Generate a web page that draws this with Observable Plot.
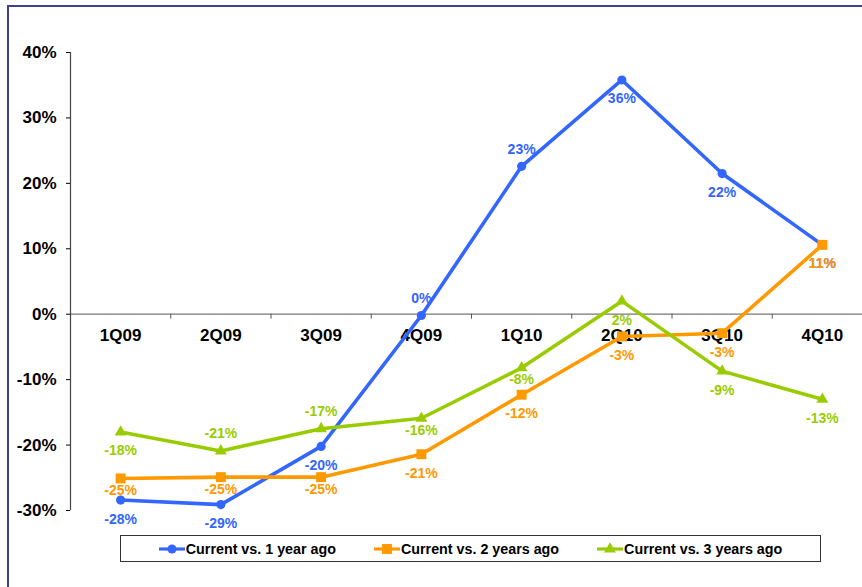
<!DOCTYPE html>
<html><head><meta charset="utf-8">
<script src="https://cdn.jsdelivr.net/npm/d3@7"></script>
<script src="https://cdn.jsdelivr.net/npm/@observablehq/plot@0.6"></script>
<style>
body{margin:0;background:#fff;font-family:"Liberation Sans",Arial,sans-serif;overflow:hidden;}
#frame{position:absolute;left:7px;top:5px;width:900px;height:700px;border-left:2px solid #3b4197;border-top:2px solid #3b4197;}
#chart{position:absolute;left:9px;top:7px;}
#chart svg{overflow:visible;}
#legend{position:absolute;left:120px;top:535px;width:699px;height:25px;border:1px solid #333;display:flex;align-items:center;justify-content:center;gap:38px;font-weight:bold;font-size:14.3px;color:#000;}
#legend .item{display:flex;align-items:center;gap:1px;}
</style>
</head><body>
<div id="frame"></div>
<div id="chart"></div>
<div id="legend"></div>
<script>
const quarters = ["1Q09","2Q09","3Q09","4Q09","1Q10","2Q10","3Q10","4Q10"];
const seriesNames = ["Current vs. 1 year ago","Current vs. 2 years ago","Current vs. 3 years ago"];
const vs1 = [-28.4,-29.1,-20.2,-0.2,22.6,35.8,21.5,10.6];
const vs2 = [-25.1,-24.9,-24.9,-21.4,-12.3,-3.4,-2.9,10.6];
const vs3 = [-18.0,-20.9,-17.5,-15.9,-8.2,2.0,-8.7,-13.0];
const yTicks = [-30,-20,-10,0,10,20,30,40];
// label placement: a = above, b = below, n = just below
const place1 = ["b","b","b","a","a","b","b","b"];
const place2 = ["n","n","n","b","b","b","b","b"];
const place3 = ["b","a","a","n","n","b","b","b"];

const colors = ["#3366ff","#ff9900","#99cc00"];
const symbols = ["circle","square","triangle"];
const radii = [4.6,5.6,4.4];
const allVals = [vs1,vs2,vs3];
const allPlace = [place1,place2,place3];

const rows = [];
allVals.forEach((vals,s)=>vals.forEach((v,i)=>rows.push({series:seriesNames[s],s,i,v,pos:allPlace[s][i]})));

const marks = [
  Plot.ruleY([0],{stroke:"#777",strokeWidth:1.2}),
  Plot.ruleX(quarters.map((q,i)=>i+0.5),{x:d=>d,y1:()=>0,y2:()=>-0.75,stroke:"#555"}),
  Plot.ruleX([-0.5],{x:d=>d,y1:()=>yTicks[0],y2:()=>yTicks[yTicks.length-1],stroke:"#444",strokeWidth:1.2}),
  Plot.text(quarters,{x:(d,i)=>i,y:()=>0,text:d=>d,dy:21,fontSize:17,fontWeight:"bold",fill:"#000"})
];
seriesNames.forEach((name,s)=>{
  const data = rows.filter(r=>r.s===s);
  marks.push(Plot.line(data,{x:"i",y:"v",stroke:colors[s],strokeWidth:3.6}));
  marks.push(Plot.dot(data,{x:"i",y:"v",symbol:()=>symbols[s],r:radii[s],fill:colors[s],stroke:"none"}));
});
const dyMap = {a:-17,b:19,n:12};
seriesNames.forEach((name,s)=>{
  ["a","b","n"].forEach(p=>{
    const data = rows.filter(r=>r.s===s && r.pos===p);
    marks.push(Plot.text(data,{x:"i",y:"v",text:d=>`${Math.round(d.v)}%`,dy:dyMap[p],fill:colors[s],fontSize:14,fontWeight:"bold"}));
  });
});

const chart = Plot.plot({
  width:853,
  height:520,
  marginTop:45,
  marginBottom:17,
  marginLeft:61,
  marginRight:0,
  style:{fontFamily:"'Liberation Sans', Arial, sans-serif",fontSize:"17px",fontWeight:"bold",background:"transparent",overflow:"visible"},
  x:{domain:[-0.5,quarters.length-0.5],range:[61,863],axis:null},
  y:{domain:[yTicks[0],yTicks[yTicks.length-1]],ticks:yTicks,tickFormat:d=>`${d}%`,tickSize:4,tickPadding:10,label:null},
  symbol:{type:"identity"},
  marks
});
document.getElementById("chart").appendChild(chart);

const legend = document.getElementById("legend");
seriesNames.forEach((name,s)=>{
  const item = document.createElement("div");
  item.className="item";
  const sw = d3.create("svg").attr("width",26).attr("height",12);
  sw.append("line").attr("x1",0).attr("x2",26).attr("y1",6).attr("y2",6).attr("stroke",colors[s]).attr("stroke-width",3.2);
  sw.append("path").attr("transform","translate(13,6)").attr("d",d3.symbol(d3["symbol"+symbols[s][0].toUpperCase()+symbols[s].slice(1)],Math.PI*radii[s]*radii[s])()).attr("fill",colors[s]);
  item.appendChild(sw.node());
  const t = document.createElement("span");
  t.textContent = name;
  item.appendChild(t);
  legend.appendChild(item);
});
</script>
</body></html>
